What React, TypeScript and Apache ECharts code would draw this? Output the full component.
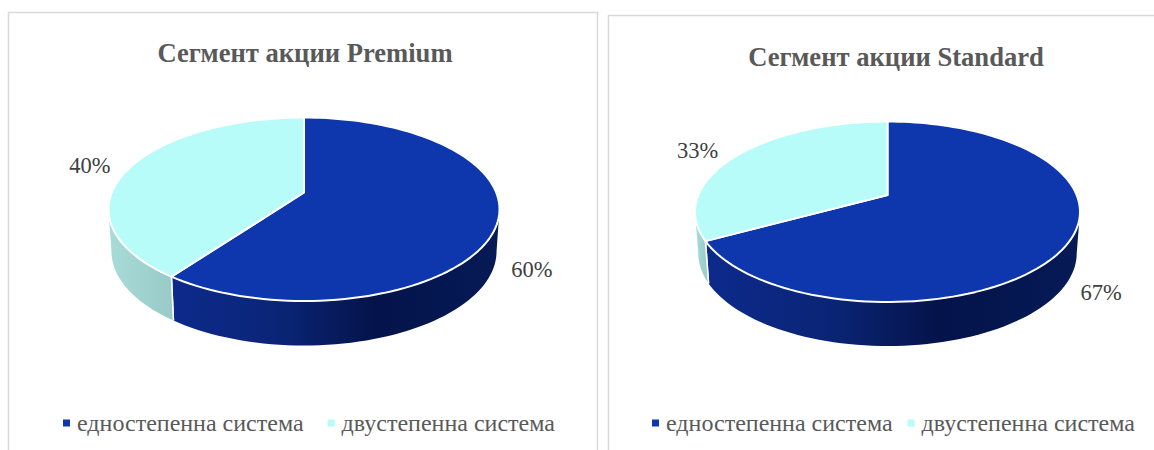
import React, { useEffect, useRef } from "react";
import * as echarts from "echarts";

const categories = ["едностепенна система", "двустепенна система"];
const premiumShares = [60, 40];
const standardShares = [67, 33];
const chartTitles = ["Сегмент акции Premium", "Сегмент акции Standard"];

const SERIF = "'Liberation Serif', 'Times New Roman', serif";
const TOP_COLORS = ["#0f37ad", "#b7fcf9"];
const BLUE_WALL = [
  { offset: 0, color: "#0d2a8c" },
  { offset: 0.35, color: "#0a2474" },
  { offset: 0.62, color: "#04134a" },
  { offset: 1, color: "#061a56" },
];
const LIGHT_WALL = [
  { offset: 0, color: "#a8dcd9" },
  { offset: 1, color: "#98cac7" },
];

type Geo = { cx: number; apexY: number; top: number; bottom: number; halfW: number; depth: number; shrink: number; backLabelDy: number };

const premiumGeo: Geo = { cx: 304, apexY: 192.5, top: 117.5, bottom: 301, halfW: 195.5, depth: 44.5, shrink: 0.985, backLabelDy: -1 };
const standardGeo: Geo = { cx: 887.5, apexY: 195, top: 121.5, bottom: 302, halfW: 192.5, depth: 44, shrink: 0.983, backLabelDy: -4 };

// Perspective projection of the pie's unit circle onto the page.
function projector(g: Geo) {
  const up = g.apexY - g.top;
  const down = g.bottom - g.apexY;
  const k = (down - up) / (down + up);
  const a = down * (1 - k);
  const b = g.halfW * Math.sqrt(1 - k * k);
  const rim = (deg: number) => {
    const t = (deg * Math.PI) / 180;
    const X = Math.sin(t);
    const Y = -Math.cos(t);
    const d = 1 - k * Y;
    return [g.cx + (b * X) / d, g.apexY + (a * Y) / d];
  };
  const base = (deg: number) => {
    const p = rim(deg);
    const frac = (p[1] - g.top) / (g.bottom - g.top);
    return [g.cx + (p[0] - g.cx) * g.shrink, p[1] + g.depth - 5 * (1 - frac)];
  };
  const edge = (Math.acos(-k) * 180) / Math.PI;
  return { rim, base, edge };
}

function arcDegrees(from: number, to: number) {
  const out: number[] = [];
  const n = Math.max(2, Math.ceil((to - from) / 2));
  for (let i = 0; i <= n; i++) out.push(from + ((to - from) * i) / n);
  return out;
}

function sliceSeries(shares: number[], index: number, g: Geo) {
  const total = shares.reduce((s, v) => s + v, 0);
  const { rim, base, edge } = projector(g);
  return {
    type: "custom",
    name: categories[index],
    coordinateSystem: "none",
    itemStyle: { color: TOP_COLORS[index] },
    silent: true,
    data: [shares[index]],
    renderItem: (_: any, api: any) => {
      const value = api.value(0);
      const before = shares.slice(0, index).reduce((s, v) => s + v, 0);
      const start = (before / total) * 360;
      const end = start + (value / total) * 360;
      const children: any[] = [];

      const wallFrom = Math.max(start, edge);
      const wallTo = Math.min(end, 360 - edge);
      if (wallTo > wallFrom) {
        const degs = arcDegrees(wallFrom, wallTo);
        const points = [...degs.map(rim), ...degs.slice().reverse().map(base)];
        children.push({
          type: "polygon",
          shape: { points },
          style: {
            fill: {
              type: "linear", x: 0, y: 0, x2: 1, y2: 0,
              colorStops: index === 0 ? BLUE_WALL : LIGHT_WALL,
            },
          },
        });
        [start, end].forEach((d) => {
          if (d > edge && d < 360 - edge) {
            const p = rim(d);
            const q = base(d);
            children.push({
              type: "line",
              shape: { x1: p[0], y1: p[1], x2: q[0], y2: q[1] },
              style: { stroke: "#ffffff", lineWidth: 1.5 },
            });
          }
        });
      }

      const top = [[g.cx, g.apexY], ...arcDegrees(start, end).map(rim)];
      children.push({
        type: "polygon",
        shape: { points: top },
        style: { fill: TOP_COLORS[index], stroke: "#ffffff", lineWidth: 2, lineJoin: "round" },
        z2: 5,
      });

      const mid = (start + end) / 2;
      const front = mid < 180;
      const anchor = front ? base(mid) : rim(mid);
      children.push({
        type: "text",
        z2: 6,
        style: {
          text: `${value}%`,
          x: anchor[0] + (front ? 37 : -41),
          y: anchor[1] + (front ? 6 : g.backLabelDy),
          fill: "#404040",
          fontSize: 22.5,
          fontFamily: SERIF,
          align: "center",
          verticalAlign: "middle",
        },
      });
      return { type: "group", children };
    },
  };
}

function legendAt(left: number, itemGap: number) {
  return {
    left,
    top: 411,
    padding: 0,
    orient: "horizontal",
    itemWidth: 7,
    itemHeight: 7,
    itemGap,
    icon: "rect",
    selectedMode: false,
    data: categories,
    textStyle: { color: "#595959", fontSize: 24, fontFamily: SERIF, padding: [0, 0, 0, 2] },
  };
}

function titleAt(text: string, left: number, top: number) {
  return {
    text,
    left,
    top,
    textAlign: "center",
    textStyle: { color: "#595959", fontSize: 26.6, fontWeight: "bold", fontFamily: SERIF },
  };
}

function frame(x: number, y: number, w: number, h: number) {
  return {
    type: "rect",
    silent: true,
    z: -1,
    shape: { x, y, width: w, height: h },
    style: { fill: "#ffffff", stroke: "#d9d9d9", lineWidth: 1.5 },
  };
}

export default function App() {
  const ref = useRef<HTMLDivElement>(null);
  useEffect(() => {
    if (!ref.current) return;
    const chart = echarts.init(ref.current, undefined, { renderer: "svg" });
    chart.setOption({
      animation: false,
      backgroundColor: "#ffffff",
      title: [titleAt(chartTitles[0], 300, 34.5), titleAt(chartTitles[1], 891, 38.5)],
      legend: [legendAt(63, 24), legendAt(652, 15)],
      graphic: { elements: [frame(8.5, 12.5, 589, 460), frame(608.5, 15.5, 570, 460)] },
      series: [
        sliceSeries(premiumShares, 0, premiumGeo),
        sliceSeries(premiumShares, 1, premiumGeo),
        sliceSeries(standardShares, 0, standardGeo),
        sliceSeries(standardShares, 1, standardGeo),
      ],
    });
    return () => chart.dispose();
  }, []);
  return <div ref={ref} style={{ position: "absolute", left: 0, top: 0, width: 1154, height: 450 }} />;
}
